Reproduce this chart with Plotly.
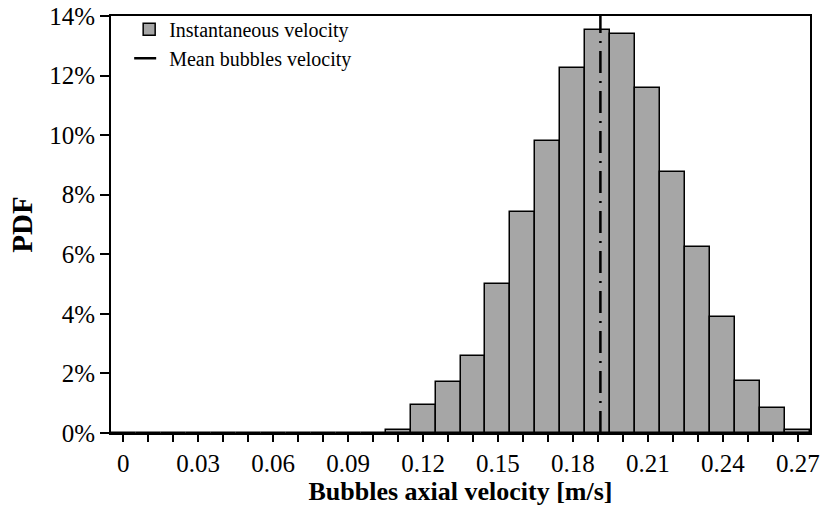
import plotly.graph_objects as go

velocity = [0.00, 0.01, 0.02, 0.03, 0.04, 0.05, 0.06, 0.07, 0.08, 0.09,
            0.10, 0.11, 0.12, 0.13, 0.14, 0.15, 0.16, 0.17, 0.18, 0.19,
            0.20, 0.21, 0.22, 0.23, 0.24, 0.25, 0.26, 0.27]
pdf = [0.0, 0.0, 0.0, 0.0, 0.0, 0.0, 0.0, 0.0, 0.0, 0.0,
       0.0, 0.0009, 0.0093, 0.0170, 0.0260, 0.0500, 0.0743, 0.0982, 0.1225, 0.1352,
       0.1338, 0.1159, 0.0877, 0.0626, 0.0389, 0.0175, 0.0084, 0.0009]
mean_velocity = 0.191

xtick_vals = velocity
xtick_text = ["0", "", "", "0.03", "", "", "0.06", "", "", "0.09",
              "", "", "0.12", "", "", "0.15", "", "", "0.18", "",
              "", "0.21", "", "", "0.24", "", "", "0.27"]
ytick_vals = [0, 0.02, 0.04, 0.06, 0.08, 0.10, 0.12, 0.14]

font = "Liberation Serif, Times New Roman, serif"

fig = go.Figure()
fig.add_trace(go.Bar(x=velocity, y=pdf, width=0.01, name="Instantaneous velocity",
                     marker=dict(color="#a6a6a6", line=dict(color="black", width=1.5))))
fig.add_trace(go.Scatter(x=[mean_velocity, mean_velocity], y=[0, 0.14], mode="lines",
                         name="Mean bubbles velocity",
                         line=dict(color="black", width=2.5, dash="22px,8px,2px,8px")))

fig.update_layout(
    width=820, height=517,
    margin=dict(l=111, r=10, t=14, b=84),
    plot_bgcolor="white", paper_bgcolor="white",
    font=dict(family=font, size=25, color="black"),
    bargap=0,
    showlegend=True,
    legend=dict(x=0.026, y=1.015, xanchor="left", yanchor="top",
                bgcolor="rgba(0,0,0,0)", font=dict(size=20),
                tracegroupgap=0, itemwidth=30),
    xaxis=dict(range=[-0.0049, 0.2749], tickvals=xtick_vals, ticktext=xtick_text,
               ticks="outside", ticklen=7, tickwidth=1.5, tickcolor="black",
               showline=True, linecolor="black", linewidth=2, mirror=True,
               showgrid=False, zeroline=False, automargin=False,
               title=dict(text="<b>Bubbles axial velocity [m/s]</b>", font=dict(size=26), standoff=4)),
    yaxis=dict(range=[0, 0.14], tickvals=ytick_vals, tickformat=".0%",
               ticks="outside", ticklen=9, tickwidth=1.5, tickcolor="black",
               showline=True, linecolor="black", linewidth=2, mirror=True,
               showgrid=False, zeroline=False, automargin=False,
               title=dict(text="<b>PDF</b>", font=dict(size=29), standoff=8)),
)

fig.write_html("out.html", config={"displayModeBar": False},
               post_script="document.body.style.margin='0';")
